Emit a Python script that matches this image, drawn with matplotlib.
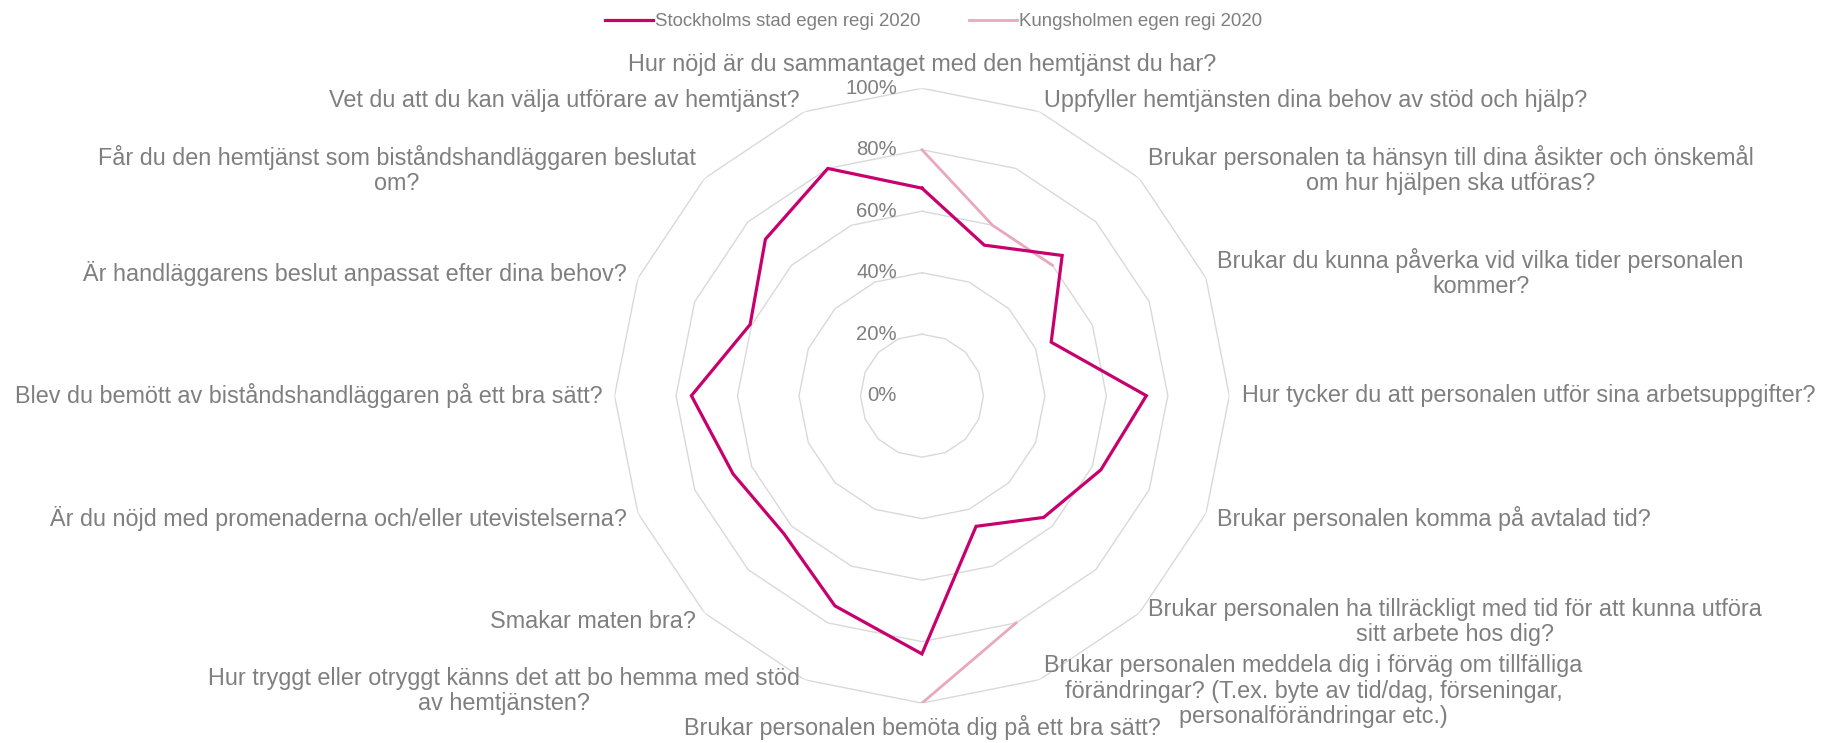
import numpy as np
import matplotlib.pyplot as plt
from matplotlib.transforms import offset_copy

plt.rcParams['font.family'] = ['Liberation Sans', 'DejaVu Sans']

# Frågor, medurs från toppen
categories = [
    "Hur nöjd är du sammantaget med den hemtjänst du har?",
    "Uppfyller hemtjänsten dina behov av stöd och hjälp?",
    "Brukar personalen ta hänsyn till dina åsikter och önskemål\nom hur hjälpen ska utföras?",
    "Brukar du kunna påverka vid vilka tider personalen\nkommer?",
    "Hur tycker du att personalen utför sina arbetsuppgifter?",
    "Brukar personalen komma på avtalad tid?",
    "Brukar personalen ha tillräckligt med tid för att kunna utföra\nsitt arbete hos dig?",
    "Brukar personalen meddela dig i förväg om tillfälliga\nförändringar? (T.ex. byte av tid/dag, förseningar,\npersonalförändringar etc.)",
    "Brukar personalen bemöta dig på ett bra sätt?",
    "Hur tryggt eller otryggt känns det att bo hemma med stöd\nav hemtjänsten?",
    "Smakar maten bra?",
    "Är du nöjd med promenaderna och/eller utevistelserna?",
    "Blev du bemött av biståndshandläggaren på ett bra sätt?",
    "Är handläggarens beslut anpassat efter dina behov?",
    "Får du den hemtjänst som biståndshandläggaren beslutat\nom?",
    "Vet du att du kan välja utförare av hemtjänst?",
]

stockholm = [0.675, 0.53, 0.645, 0.455, 0.73, 0.63, 0.56, 0.46,
             0.84, 0.74, 0.635, 0.665, 0.75, 0.605, 0.72, 0.80]
kungsholmen = [0.80, 0.60, 0.60, np.nan, np.nan, np.nan, np.nan, 0.80,
               1.00, np.nan, np.nan, np.nan, np.nan, np.nan, np.nan, np.nan]

series_names = ["Stockholms stad egen regi 2020", "Kungsholmen egen regi 2020"]
ring_levels = [0.2, 0.4, 0.6, 0.8, 1.0]
tick_levels = [0.0, 0.2, 0.4, 0.6, 0.8, 1.0]
tick_labels = ["0%", "20%", "40%", "60%", "80%", "100%"]

text_col = "#7F7F7F"
grid_col = "#D9D9D9"
c_sthlm = "#C8006E"
c_kungs = "#E8A8BF"

n = len(categories)
theta = np.arange(n) * 2 * np.pi / n
theta_closed = np.append(theta, theta[0])

fig = plt.figure(figsize=(18.3, 7.43), dpi=100)
ax = fig.add_axes([0.3358, 0.0537, 0.336, 0.8275], projection='polar')
ax.set_theta_zero_location('N')
ax.set_theta_direction(-1)
ax.set_ylim(0, 1)
ax.axis('off')

# polygonal grid
for lev in ring_levels:
    ax.plot(theta_closed, [lev] * (n + 1), color=grid_col, lw=1.0, zorder=1)

s = np.append(stockholm, stockholm[0])
k = np.append(kungsholmen, kungsholmen[0])
l1, = ax.plot(theta_closed, s, color=c_sthlm, lw=2.3, zorder=3,
              solid_joinstyle='miter', label=series_names[0])
l2, = ax.plot(theta_closed, k, color=c_kungs, lw=2.0, zorder=2,
              solid_joinstyle='miter', label=series_names[1])

# radial tick labels, left of the top axis
tr = offset_copy(ax.transData, fig=fig, x=-18, y=0, units='points')
for lev, lab in zip(tick_levels, tick_labels):
    ax.text(0, lev, lab, transform=tr, ha='right', va='center',
            fontsize=14.6, color=text_col)

# category labels
for i, (t, lab) in enumerate(zip(theta, categories)):
    if i == 0:
        ha, va = 'center', 'bottom'
    elif i == n // 2:
        ha, va = 'center', 'top'
    elif i < n // 2:
        ha, va = 'left', 'center'
    else:
        ha, va = 'right', 'center'
    ax.text(t, 1.04, lab, ha=ha, va=va, multialignment='center',
            fontsize=16.8, color=text_col, linespacing=1.12)

leg = fig.legend(handles=[l1, l2], loc='upper center', ncol=2,
                 bbox_to_anchor=(0.51, 1.005), frameon=False,
                 fontsize=13.4, handlelength=2.6, handletextpad=0.1,
                 columnspacing=2.6)
for t in leg.get_texts():
    t.set_color(text_col)

fig.savefig("out.png", dpi=100)
